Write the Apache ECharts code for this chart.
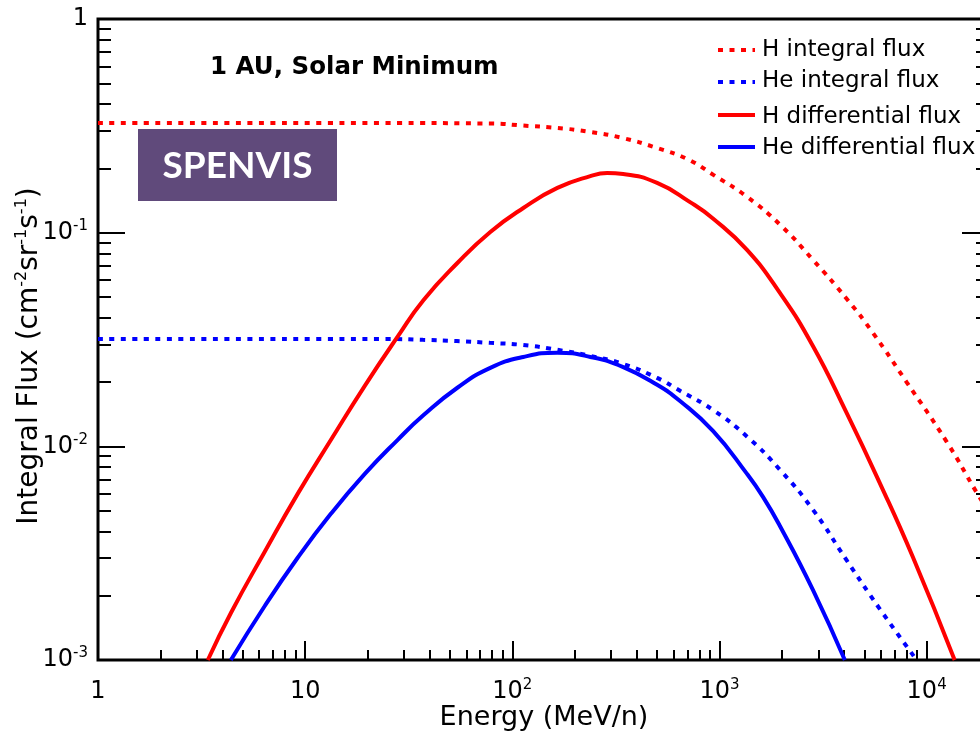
<!DOCTYPE html>
<html>
<head>
<meta charset="utf-8">
<script src="https://cdn.jsdelivr.net/npm/echarts@6/dist/echarts.min.js"></script>
<style>
  html, body { margin: 0; padding: 0; background: #ffffff; }
  #chart { width: 980px; height: 732px; }
</style>
</head>
<body>
<div id="chart"></div>
<script>
// Cosmic-ray flux spectra at 1 AU, solar minimum (energy in MeV/n)
const hIntEnergy = [1, 25, 80, 113, 165, 238, 343, 500, 700, 930, 1360, 1960, 2830, 4100, 5500, 8000, 12500, 17400, 20000];
const hIntFlux   = [0.326, 0.326, 0.324, 0.317, 0.309, 0.296, 0.277, 0.249, 0.221, 0.187, 0.147, 0.109, 0.0745, 0.0492, 0.034, 0.020, 0.0105, 0.0061, 0.0049];

const heIntEnergy = [1, 25, 37, 54, 78, 113, 165, 238, 343, 500, 645, 930, 1360, 1960, 2830, 4100, 5900, 8950];
const heIntFlux   = [0.0318, 0.0318, 0.0315, 0.0311, 0.0305, 0.0298, 0.0283, 0.0265, 0.0243, 0.0209, 0.0182, 0.0148, 0.0111, 0.00776, 0.00504, 0.00294, 0.00175, 0.001];

const hDiffEnergy = [3.39, 4.38, 6.38, 9.2, 13.3, 19.4, 27.9, 37.3, 54.3, 78.3, 113, 165, 238, 287, 343, 500, 721, 930, 1358, 1958, 2825, 4115, 5935, 8570, 13650];
const hDiffFlux   = [0.001, 0.00166, 0.00321, 0.00599, 0.0107, 0.0192, 0.0325, 0.0484, 0.0721, 0.1008, 0.1305, 0.162, 0.184, 0.190, 0.188, 0.171, 0.139, 0.1165, 0.083, 0.0522, 0.0295, 0.0143, 0.00675, 0.00304, 0.001];

const heDiffEnergy = [4.38, 6.38, 9.2, 13.3, 19.4, 27.9, 37.3, 54.3, 78.3, 113, 165, 238, 343, 500, 645, 930, 1358, 1622, 1958, 2825, 4027];
const heDiffFlux   = [0.001, 0.00179, 0.00301, 0.00483, 0.00743, 0.0107, 0.0140, 0.0188, 0.0233, 0.0262, 0.0274, 0.0262, 0.0235, 0.0194, 0.0163, 0.0118, 0.00743, 0.0058, 0.00424, 0.00213, 0.001];

const seriesNames = ['H integral flux', 'He integral flux', 'H differential flux', 'He differential flux'];

// Minor tick positions for the logarithmic axes
const xMinorTicks = [2, 3, 4, 5, 6, 7, 8, 9, 20, 30, 40, 50, 60, 70, 80, 90,
  200, 300, 400, 500, 600, 700, 800, 900, 2000, 3000, 4000, 5000, 6000, 7000, 8000, 9000];
const yMinorTicks = [0.002, 0.003, 0.004, 0.005, 0.006, 0.007, 0.008, 0.009,
  0.02, 0.03, 0.04, 0.05, 0.06, 0.07, 0.08, 0.09, 0.2, 0.3, 0.4, 0.5, 0.6, 0.7, 0.8, 0.9];

const FONT = 'DejaVu Sans';
const RED = '#ff0000';
const BLUE = '#0000ff';
const DOTS = [5, 6.5];

function pairs(xs, ys) { return xs.map((x, i) => [x, ys[i]]); }

function powerLabel(v) {
  const p = Math.round(Math.log10(v));
  if (p === 0) return '{b|1}';
  if (p === 1) return '{b|10}';
  return '{b|10}{s|' + p + '}';
}

const tickRich = {
  b: { fontFamily: FONT, fontSize: 24, lineHeight: 28, color: '#000' },
  s: { fontFamily: FONT, fontSize: 15, lineHeight: 15, verticalAlign: 'top', color: '#000' }
};

const tickLine = { color: '#000', width: 2 };

function hiddenLog(min, max, pos, len, custom) {
  const tick = { show: true, inside: true, length: len, lineStyle: tickLine };
  if (custom) tick.customValues = custom;
  return {
    type: 'log', logBase: 10, min: min, max: max, position: pos,
    axisLine: { show: false }, splitLine: { show: false },
    axisLabel: { show: false }, axisTick: tick
  };
}

function lineSeries(name, data, color, dotted) {
  return {
    name: name, type: 'line', xAxisIndex: 0, yAxisIndex: 0,
    data: data, symbol: 'none', showSymbol: false, smooth: 0.5,
    lineStyle: { color: color, width: 4, type: dotted ? DOTS : 'solid', cap: 'butt' },
    itemStyle: { color: color }
  };
}

// Hand-placed legend: line sample + label per series
const legendRows = [
  { name: seriesNames[0], color: RED, dotted: true, lineY: 50, textY: 50 },
  { name: seriesNames[1], color: BLUE, dotted: true, lineY: 82, textY: 81 },
  { name: seriesNames[2], color: RED, dotted: false, lineY: 115, textY: 117 },
  { name: seriesNames[3], color: BLUE, dotted: false, lineY: 147, textY: 148 }
];
const legendGraphics = [];
legendRows.forEach(r => {
  legendGraphics.push({
    type: 'line', z: 20,
    shape: { x1: 718, y1: r.lineY, x2: 755, y2: r.lineY },
    style: { stroke: r.color, lineWidth: 4, lineDash: r.dotted ? DOTS : null, lineCap: 'butt' }
  });
  legendGraphics.push({
    type: 'text', z: 20, x: 762, y: r.textY,
    style: { text: r.name, fontFamily: FONT, fontSize: 23, fill: '#000', align: 'left', verticalAlign: 'middle' }
  });
});

const chart = echarts.init(document.getElementById('chart'), null, { renderer: 'canvas' });

chart.setOption({
  animation: false,
  backgroundColor: '#ffffff',
  grid: {
    left: 98, top: 19, right: -9, bottom: 72,
    outerBoundsMode: 'none', containLabel: false,
    show: true, borderColor: '#000', borderWidth: 3, backgroundColor: 'transparent'
  },
  xAxis: [
    {
      type: 'log', logBase: 10, min: 1, max: 20000, position: 'bottom',
      axisLine: { show: false }, splitLine: { show: false },
      axisTick: { show: true, inside: true, length: 19, lineStyle: tickLine },
      axisLabel: { showMaxLabel: false, margin: 18, formatter: powerLabel, rich: tickRich }
    },
    hiddenLog(1, 20000, 'bottom', 10, xMinorTicks)
  ],
  yAxis: [
    {
      type: 'log', logBase: 10, min: 0.001, max: 1, position: 'left',
      axisLine: { show: false }, splitLine: { show: false },
      axisTick: { show: true, inside: true, length: 27, lineStyle: tickLine },
      axisLabel: { margin: 10, formatter: powerLabel, rich: tickRich }
    },
    hiddenLog(0.001, 1, 'left', 13, yMinorTicks),
    hiddenLog(0.001, 1, 'right', 27, null),
    hiddenLog(0.001, 1, 'right', 13, yMinorTicks)
  ],
  series: [
    lineSeries(seriesNames[0], pairs(hIntEnergy, hIntFlux), RED, true),
    lineSeries(seriesNames[1], pairs(heIntEnergy, heIntFlux), BLUE, true),
    lineSeries(seriesNames[2], pairs(hDiffEnergy, hDiffFlux), RED, false),
    lineSeries(seriesNames[3], pairs(heDiffEnergy, heDiffFlux), BLUE, false)
  ],
  graphic: legendGraphics.concat([
    {
      type: 'text', z: 10, x: 544, y: 718,
      style: { text: 'Energy (MeV/n)', fontFamily: FONT, fontSize: 27, fill: '#000',
               align: 'center', verticalAlign: 'middle' }
    },
    {
      type: 'text', z: 10, x: 30, y: 356, rotation: Math.PI / 2,
      style: {
        text: 'Integral Flux (cm{s|-2}sr{s|-1}s{s|-1})',
        fontFamily: FONT, fontSize: 28, lineHeight: 32, fill: '#000',
        align: 'center', verticalAlign: 'middle',
        rich: { s: { fontFamily: FONT, fontSize: 16, lineHeight: 16, verticalAlign: 'top', fill: '#000' } }
      }
    },
    {
      type: 'text', left: 210, top: 55, z: 10,
      style: { text: '1 AU, Solar Minimum', fontFamily: FONT, fontWeight: 'bold', fontSize: 24.5, fill: '#000' }
    },
    {
      type: 'group', left: 138, top: 129, z: 10,
      children: [
        { type: 'rect', shape: { x: 0, y: 0, width: 199, height: 72 }, style: { fill: '#604A7B' } },
        {
          type: 'text', x: 99.5, y: 37,
          style: { text: 'SPENVIS', fontFamily: 'Lato', fontWeight: 'bold', fontSize: 37,
                   fill: '#ffffff', align: 'center', verticalAlign: 'middle' }
        }
      ]
    }
  ])
});
</script>
</body>
</html>
